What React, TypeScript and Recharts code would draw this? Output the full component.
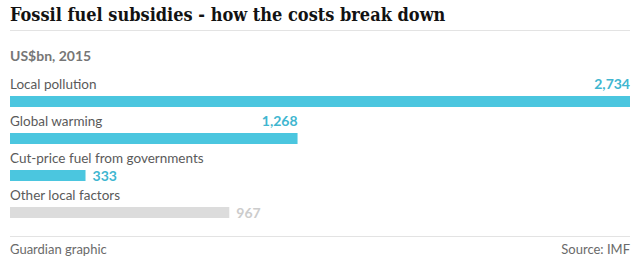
import { Bar, BarChart, Cell, LabelList, XAxis, YAxis } from "recharts";

const categories = ["Local pollution", "Global warming", "Cut-price fuel from governments", "Other local factors"];
const costs = [2734, 1268, 333, 967];
const barColors = ["#4bc6df", "#4bc6df", "#4bc6df", "#dcdcdc"];
const valueColors = ["#40b6d0", "#40b6d0", "#40b6d0", "#cccccc"];

const data = categories.map((name, i) => ({ name, value: costs[i] }));

const SANS = "Lato, 'Open Sans', sans-serif";
const SERIF = "'DejaVu Serif Condensed', 'DejaVu Serif', serif";

function CategoryLabel(props: any) {
  const { x, y, value } = props;
  return (
    <text x={x} y={y - 7} fill="#5a5a5a" fontFamily={SANS} fontSize={13.5}>
      {value}
    </text>
  );
}

function ValueLabel(props: any) {
  const { x, y, width, height, value, index } = props;
  const text = Number(value).toLocaleString("en-US");
  const color = valueColors[index];
  // big bars carry their value above the bar end, small ones just to the right
  if (value >= 1000) {
    return (
      <text x={x + width} y={y - 7} textAnchor="end" fill={color} fontFamily={SANS} fontWeight={700} fontSize={14}>
        {text}
      </text>
    );
  }
  return (
    <text x={x + width + 7} y={y + height} fill={color} fontFamily={SANS} fontWeight={700} fontSize={14}>
      {text}
    </text>
  );
}

export default function App() {
  return (
    <div style={{ position: "fixed", left: 0, top: 0, width: 640, height: 268, background: "#fff" }}>
      <BarChart
        width={640}
        height={268}
        data={data}
        layout="vertical"
        margin={{ top: 83, right: 10, bottom: 37, left: 10 }}
      >
        <XAxis type="number" domain={[0, 2734]} hide />
        <YAxis type="category" dataKey="name" hide width={0} />
        <Bar dataKey="value" barSize={11} isAnimationActive={false}>
          {data.map((entry, i) => (
            <Cell key={entry.name} fill={barColors[i]} />
          ))}
          <LabelList dataKey="name" content={CategoryLabel} />
          <LabelList dataKey="value" content={ValueLabel} />
        </Bar>
      </BarChart>
      <svg width={640} height={268} style={{ position: "absolute", left: 0, top: 0, pointerEvents: "none" }}>
        <text x={10} y={21} fill="#121212" fontFamily={SERIF} fontWeight={700} fontSize={18}>
          Fossil fuel subsidies - how the costs break down
        </text>
        <line x1={10} x2={630} y1={30.5} y2={30.5} stroke="#e3e3e3" />
        <text x={10} y={61} fill="#767676" fontFamily={SANS} fontWeight={700} fontSize={14}>
          US$bn, 2015
        </text>
        <line x1={10} x2={630} y1={236.5} y2={236.5} stroke="#e3e3e3" />
        <text x={10} y={254} fill="#6a6a6a" fontFamily={SANS} fontSize={13}>
          Guardian graphic
        </text>
        <text x={630} y={254} textAnchor="end" fill="#6a6a6a" fontFamily={SANS} fontSize={13}>
          Source: IMF
        </text>
      </svg>
    </div>
  );
}
